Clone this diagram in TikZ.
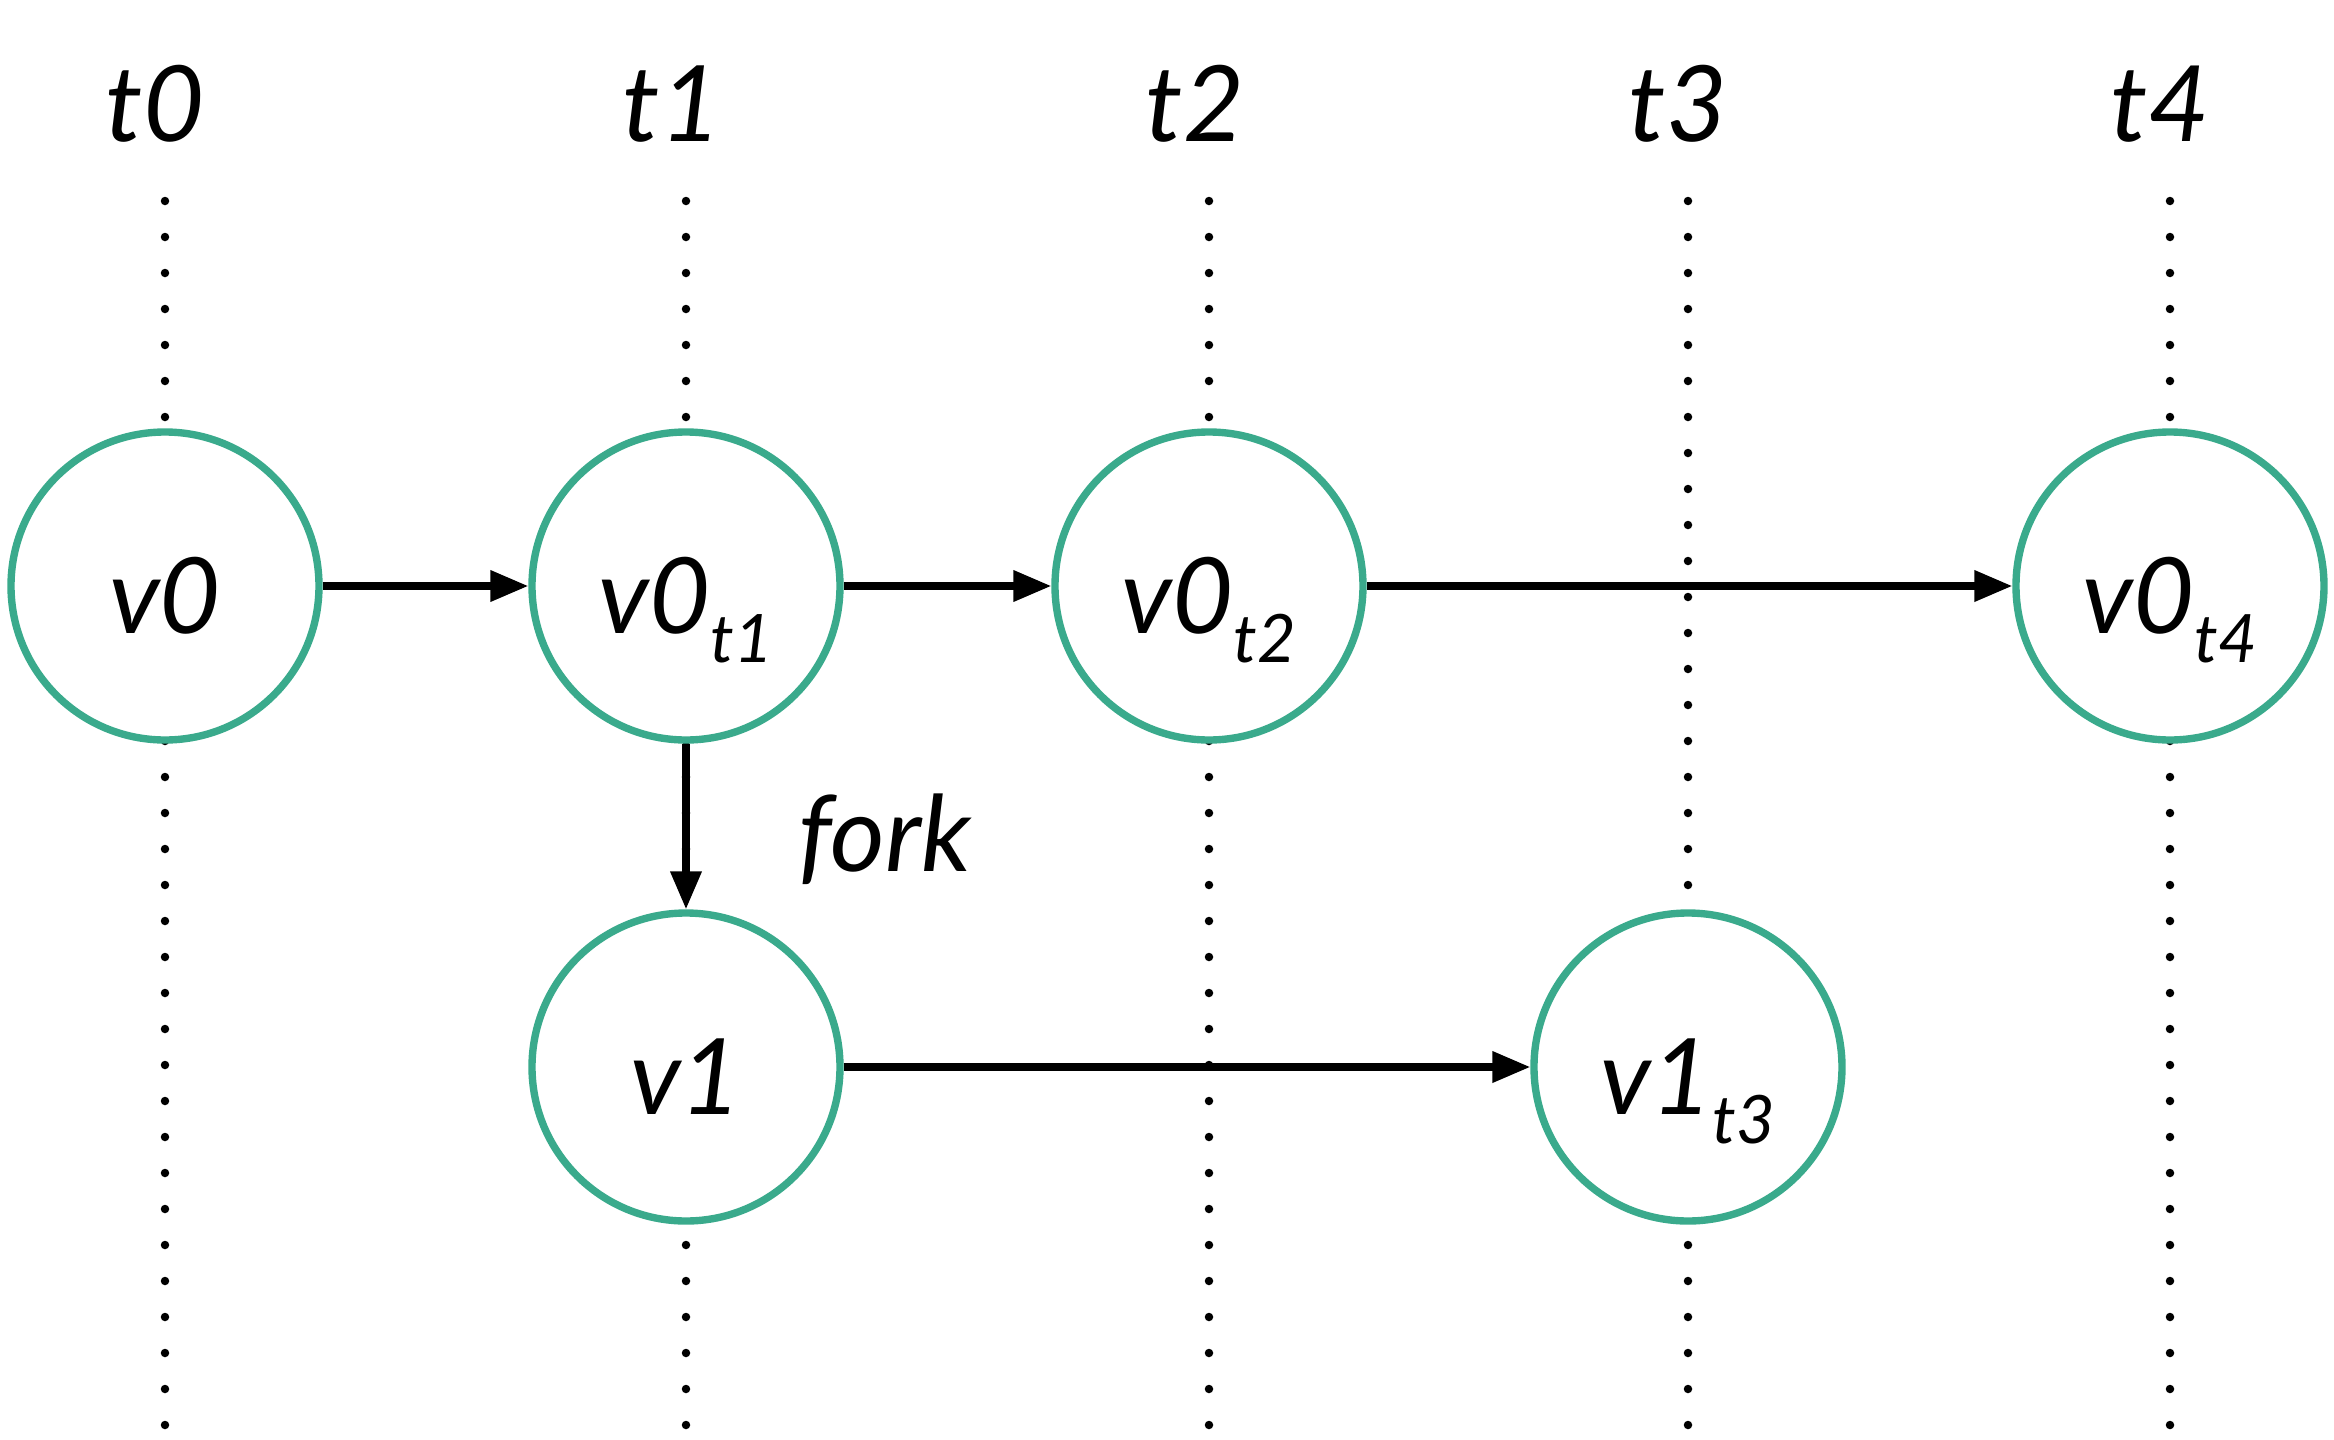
\documentclass[tikz,border=0pt]{standalone}
\usepackage{fontspec}
\setmainfont{Lato}
\usetikzlibrary{arrows.meta}
\definecolor{nodegreen}{HTML}{3AAA8C}
\newcommand{\subt}[1]{\raisebox{-8.5pt}{\fontsize{19}{19}\selectfont #1}}
\begin{document}
\begin{tikzpicture}[
  every node/.style={font=\fontsize{30}{36}\selectfont\itshape},
  vnode/.style={circle, draw=nodegreen, line width=2.1pt, fill=white,
    minimum size=3.08cm, inner sep=0pt, text height=1.0cm, text depth=0.06cm},
  tlabel/.style={anchor=base},
  timeline/.style={line width=0.085cm, line cap=round, dash pattern=on 0pt off 0.36cm},
  conn/.style={line width=2pt, -{Triangle[length=0.38cm,width=0.3cm]}}
]
\useasboundingbox (0,0) rectangle (23.34,-14.40);
% time labels
\node[tlabel] (t0) at (1.55,-1.41) {t0};
\node[tlabel] (t1) at (6.72,-1.41) {t1};
\node[tlabel] (t2) at (11.95,-1.41) {t2};
\node[tlabel] (t3) at (16.78,-1.41) {t3};
\node[tlabel] (t4) at (21.60,-1.41) {t4};
% timeline coordinates
\foreach \n/\x in {a/1.65,b/6.86,c/12.09,d/16.88,e/21.70}{
  \coordinate (top\n) at (\x,-2.01);
  \coordinate (bot\n) at (\x,-14.29);
}
\foreach \n in {a,b,c,d,e}{
  \draw[timeline] (top\n) -- (bot\n);
}
% nodes
\node[vnode] (v0) at (1.65,-5.86) {v0};
\node[vnode] (v0t1) at (6.86,-5.86) {v0\subt{t1}};
\node[vnode] (v0t2) at (12.09,-5.86) {v0\subt{t2}};
\node[vnode] (v0t4) at (21.70,-5.86) {v0\subt{t4}};
\node[vnode] (v1) at (6.86,-10.67) {v1};
\node[vnode] (v1t3) at (16.88,-10.67) {v1\subt{t3}};
% connectors
\draw[conn] (v0) -- (v0t1);
\draw[conn] (v0t1) -- (v0t2);
\draw[conn] (v0t2) -- (v0t4);
\draw[conn] (v0t1) -- (v1);
\draw[conn] (v1) -- (v1t3);
\node[anchor=base west] (fork) at (7.86,-8.71) {fork};
\end{tikzpicture}
\end{document}
